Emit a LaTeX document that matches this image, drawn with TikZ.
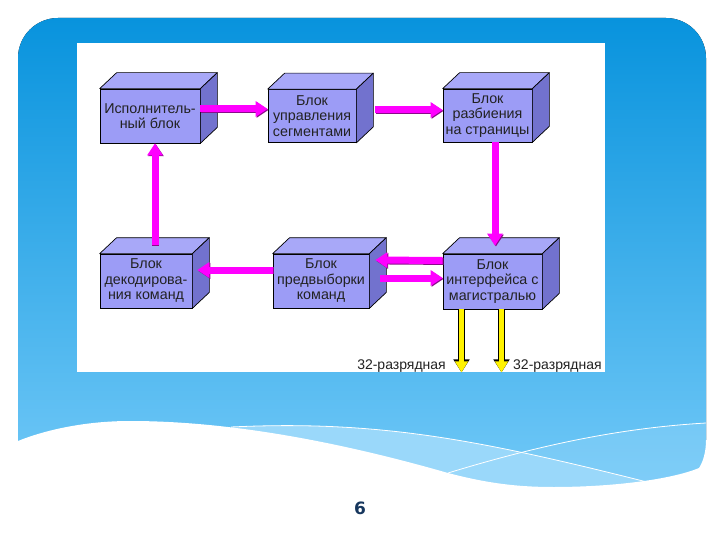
\documentclass[tikz,border=0pt]{standalone}
\usepackage{fontspec}
\setmainfont{Liberation Sans}
\newfontfamily\numfont{DejaVu Sans}
\usepackage{xcolor}
\usepackage{tikz}
\usetikzlibrary{arrows.meta}
\definecolor{paneltop}{HTML}{0893DD}
\definecolor{panelbot}{HTML}{74CAF8}
\definecolor{bandcol}{HTML}{9AD8FA}
\definecolor{frontcol}{HTML}{9C9CF6}
\definecolor{topcol}{HTML}{A8A8F8}
\definecolor{sidecol}{HTML}{7272CE}
\definecolor{magcol}{HTML}{FF00FF}
\definecolor{magdark}{HTML}{8A0A8A}
\definecolor{numcol}{HTML}{17375E}
\definecolor{txtcol}{HTML}{222222}
\tikzset{
  blok/.style={draw=black, line width=0.7pt, fill=frontcol, inner sep=0pt, align=center,
    text=txtcol, font=\fontsize{14.3}{15.5}\selectfont},
  topface/.style={draw=black, line width=0.7pt, fill=topcol, line join=round},
  sideface/.style={draw=black, line width=0.7pt, fill=sidecol, line join=round},
  magarrow/.style={magcol, line width=7pt, -{Triangle[length=12pt,width=15pt]},
    preaction={draw=magdark, line width=7pt, -{Triangle[length=12pt,width=15pt]},
      transform canvas={shift={(0.9pt,-0.9pt)}}}},
  busarrow/.style={yellow, line width=5pt, -{Triangle[length=11pt,width=12.5pt]},
    preaction={draw=black, line width=7pt, -{Triangle[length=13pt,width=15.5pt]}}},
  lbl/.style={text=txtcol, font=\fontsize{14}{14}\selectfont, inner sep=0pt}
}

\begin{document}
\begin{tikzpicture}[x=1pt,y=-1pt]
			\def\dx{17}
			\def\dy{-16}
			\useasboundingbox (0,0) rectangle (720,540);
			\fill[white] (0,0) rectangle (720,540);
			% panel and wave
			\fill[top color=paneltop, bottom color=panelbot, rounded corners=40pt] (18,500) -- (18,18) -- (706,18) -- (706,500) -- cycle;
			\fill[bandcol] (231,427) .. controls (380,420) and (480,440) .. (651,483) -- (651,500) -- (231,500) -- cycle;
			\fill[bandcol, opacity=0.35] (448,473) .. controls (540,445) and (620,428) .. (706,423) -- (706,500) -- (448,500) -- cycle;
			\draw[white, line width=0.8pt] (231,427) .. controls (380,420) and (480,440) .. (651,483);
			\draw[white, line width=0.8pt] (448,473) .. controls (540,445) and (620,428) .. (706,423);
			\fill[white] (0,441) -- (18,441) .. controls (45,430) and (85,421) .. (130,421) .. controls (230,421) and (340,442) .. (448,473) .. controls (490,484) and (520,487) .. (554,487) .. controls (610,487) and (670,480) .. (699,468) .. controls (703,462) and (706,452) .. (706,440) -- (720,440) -- (720,540) -- (0,540) -- cycle;
			\node[fill=white, minimum width=528, minimum height=329, inner sep=0pt, anchor=north west] (scr) at (77,43) {};
			% blocks
			\node[blok, minimum width=100, minimum height=54] (b1) at (150,116) {Исполнитель-\\ный блок};
			\node[blok, minimum width=88, minimum height=53] (b2) at (312,116) {Блок\\управления\\сегментами};
			\node[blok, minimum width=89, minimum height=53] (b3) at (487.5,115.5) {Блок\\разбиения\\на страницы};
			\node[blok, minimum width=92, minimum height=54] (b4) at (146,281) {Блок\\декодирова-\\ния команд};
			\node[blok, minimum width=96, minimum height=54] (b5) at (321,281) {Блок\\предвыборки\\команд};
			\node[blok, minimum width=99, minimum height=55] (b6) at (492.5,281.5) {Блок\\интерфейса с\\магистралью};
			\foreach \b in {b1,b2,b3,b4,b5,b6} {
				\draw[topface] (\b.north west) -- ([shift={(\dx,\dy)}]\b.north west) -- ([shift={(\dx,\dy)}]\b.north east) -- (\b.north east) -- cycle;
				\draw[sideface] (\b.north east) -- ([shift={(\dx,\dy)}]\b.north east) -- ([shift={(\dx,\dy)}]\b.south east) -- (\b.south east) -- cycle;
			}
			% connections
			\draw[magarrow] ([yshift=7pt]b1.east) -- ([yshift=7pt]b1.east -| b2.west);
			\draw[magarrow] ([xshift=19pt,yshift=6pt]b2.east) -- ([yshift=6pt]b2.east -| b3.west);
			\draw[magarrow] ([xshift=7.5pt]b3.south) -- ([xshift=7.5pt,yshift=8pt]b3.south |- b6.north);
			\draw[magarrow] ([yshift=21pt]b6.west) -- ([xshift=6pt,yshift=21pt]b5.east);
			\draw[magarrow] ([xshift=11pt,yshift=3pt]b5.east) -- ([yshift=3pt]b5.east -| b6.west);
			\draw[magarrow] ([yshift=11pt]b5.west) -- ([xshift=5pt,yshift=11pt]b4.east);
			\draw[magarrow] ([xshift=9pt,yshift=9pt]b4.north) -- ([xshift=9pt]b4.north |- b1.south);
			\draw[busarrow] ([xshift=-31pt]b6.south) -- ([xshift=-31pt]b6.south |- scr.south);
			\draw[busarrow] ([xshift=9pt]b6.south) -- ([xshift=9pt]b6.south |- scr.south);
			\node[lbl, anchor=east] (busl) at (446,366) {32-разрядная};
			\node[lbl, anchor=west] (busr) at (513,366) {32-разрядная};
			% page number
			\node[text=numcol, font=\numfont\bfseries\fontsize{17}{17}\selectfont] (pgnum) at (360,508) {6};
\end{tikzpicture}
\end{document}
